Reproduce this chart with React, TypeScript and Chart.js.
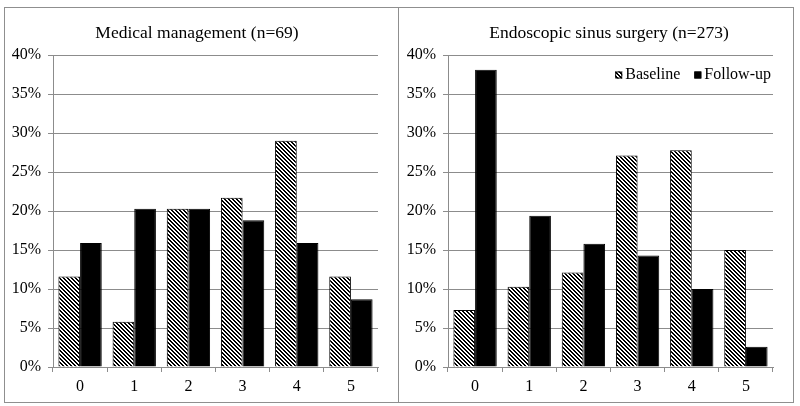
import React, { useEffect, useRef } from 'react';
import { Chart, registerables } from 'chart.js';

Chart.register(...registerables);

const categories = ['0', '1', '2', '3', '4', '5'];
const seriesLabels = ['Baseline', 'Follow-up'];
const medicalBaseline = [11.6, 5.8, 20.3, 21.7, 29.0, 11.6];
const medicalFollowUp = [15.9, 20.3, 20.3, 18.8, 15.9, 8.7];
const surgeryBaseline = [7.3, 10.3, 12.1, 27.1, 27.8, 15.0];
const surgeryFollowUp = [38.1, 19.4, 15.8, 14.3, 10.0, 2.6];
const panelTitles = ['Medical management (n=69)', 'Endoscopic sinus surgery (n=273)'];
const yMin = 0;
const yMax = 40;
const yStep = 5;

const SERIF = '"Liberation Serif", "Times New Roman", serif';
const GRID = '#8c8c8c';

function makeHatch(): CanvasPattern | string {
  const c = document.createElement('canvas');
  c.width = 4;
  c.height = 4;
  const g = c.getContext('2d');
  if (!g) return '#888';
  g.fillStyle = '#ffffff';
  g.fillRect(0, 0, 4, 4);
  g.fillStyle = '#000000';
  for (let y = 0; y < 4; y++) {
    for (let x = 0; x < 4; x++) {
      if ((((x - y) % 4) + 4) % 4 < 2) g.fillRect(x, y, 1, 1);
    }
  }
  return g.createPattern(c, 'repeat') || '#888';
}

type PanelProps = {
  title: string;
  baseline: number[];
  followUp: number[];
  showLegend: boolean;
  width: number;
  height: number;
  axisWidth: number;
  titleX: number;
};

function Panel({ title, baseline, followUp, showLegend, width, height, axisWidth, titleX }: PanelProps) {
  const ref = useRef<HTMLCanvasElement | null>(null);

  useEffect(() => {
    if (!ref.current) return;
    const hatch = makeHatch();

    const titlePlugin = {
      id: 'panelTitle',
      afterDraw(chart: any) {
        const ctx = chart.ctx;
        ctx.save();
        ctx.fillStyle = '#000';
        ctx.font = `17.5px ${SERIF}`;
        ctx.textAlign = 'center';
        ctx.textBaseline = 'middle';
        ctx.fillText(title, titleX, chart.chartArea.top - 22);
        ctx.restore();
      },
    };

    const legendPlugin = {
      id: 'hatchLegend',
      afterDraw(chart: any) {
        const ctx = chart.ctx;
        const area = chart.chartArea;
        ctx.save();
        ctx.font = `16px ${SERIF}`;
        ctx.textBaseline = 'middle';
        ctx.textAlign = 'left';
        const cy = area.top + 20;
        const box = 7;
        const gap = 3;
        const itemGap = 14;
        let x = area.right - 2;
        const fills = [hatch, '#000'];
        for (let i = seriesLabels.length - 1; i >= 0; i--) {
          const label = seriesLabels[i];
          const w = ctx.measureText(label).width;
          const tx = x - w;
          ctx.fillStyle = '#000';
          ctx.fillText(label, tx, cy);
          const bx = tx - gap - box;
          ctx.fillStyle = fills[i];
          ctx.fillRect(bx, cy - box / 2, box, box);
          ctx.strokeStyle = '#000';
          ctx.lineWidth = 1;
          ctx.strokeRect(bx + 0.5, cy - box / 2 + 0.5, box - 1, box - 1);
          x = bx - itemGap;
        }
        ctx.restore();
      },
    };

    const plugins: any[] = [titlePlugin];
    if (showLegend) plugins.push(legendPlugin);

    const chart = new Chart(ref.current, {
      type: 'bar',
      data: {
        labels: categories,
        datasets: [
          {
            label: seriesLabels[0],
            data: baseline,
            backgroundColor: hatch as any,
            borderColor: '#000',
            borderWidth: 1,
            categoryPercentage: 0.8,
            barPercentage: 1.0,
          },
          {
            label: seriesLabels[1],
            data: followUp,
            backgroundColor: '#000',
            borderColor: '#000',
            borderWidth: 1,
            categoryPercentage: 0.8,
            barPercentage: 1.0,
          },
        ],
      },
      options: {
        responsive: false,
        animation: false,
        devicePixelRatio: 1,
        layout: { padding: { top: 47, right: 20, bottom: 0, left: 0 } },
        plugins: {
          legend: { display: false },
          title: { display: false },
          tooltip: { enabled: false },
        },
        scales: {
          x: {
            grid: {
              display: true,
              drawOnChartArea: false,
              drawTicks: true,
              tickLength: 5,
              color: GRID,
              offset: true,
            },
            border: { display: true, color: GRID, width: 1 },
            ticks: {
              color: '#000',
              font: { family: SERIF, size: 16 },
              padding: 5,
            },
            afterFit(scale: any) {
              scale.height = 35;
            },
          },
          y: {
            min: yMin,
            max: yMax,
            ticks: {
              stepSize: yStep,
              color: '#000',
              font: { family: SERIF, size: 16 },
              padding: 7,
              callback: (v: any) => `${v}%`,
            },
            grid: {
              color: GRID,
              drawTicks: true,
              tickLength: 5,
            },
            border: { display: true, color: GRID, width: 1 },
            afterFit(scale: any) {
              scale.width = axisWidth;
            },
          },
        },
      },
      plugins,
    });
    return () => chart.destroy();
  }, [title, baseline, followUp, showLegend, axisWidth, titleX]);

  return <canvas ref={ref} width={width} height={height} style={{ display: 'block' }} />;
}

export default function App() {
  return (
    <div
      style={{
        position: 'absolute',
        left: 4,
        top: 7,
        width: 790,
        height: 396,
        boxSizing: 'border-box',
        border: '1px solid #8f8f8f',
        display: 'flex',
        background: '#fff',
      }}
    >
      <div style={{ width: 394, height: 394, borderRight: '1px solid #8f8f8f', boxSizing: 'border-box' }}>
        <Panel
          title={panelTitles[0]}
          baseline={medicalBaseline}
          followUp={medicalFollowUp}
          showLegend={false}
          width={393}
          height={394}
          axisWidth={48}
          titleX={192}
        />
      </div>
      <div style={{ width: 394, height: 394 }}>
        <Panel
          title={panelTitles[1]}
          baseline={surgeryBaseline}
          followUp={surgeryFollowUp}
          showLegend={true}
          width={394}
          height={394}
          axisWidth={49}
          titleX={210}
        />
      </div>
    </div>
  );
}
